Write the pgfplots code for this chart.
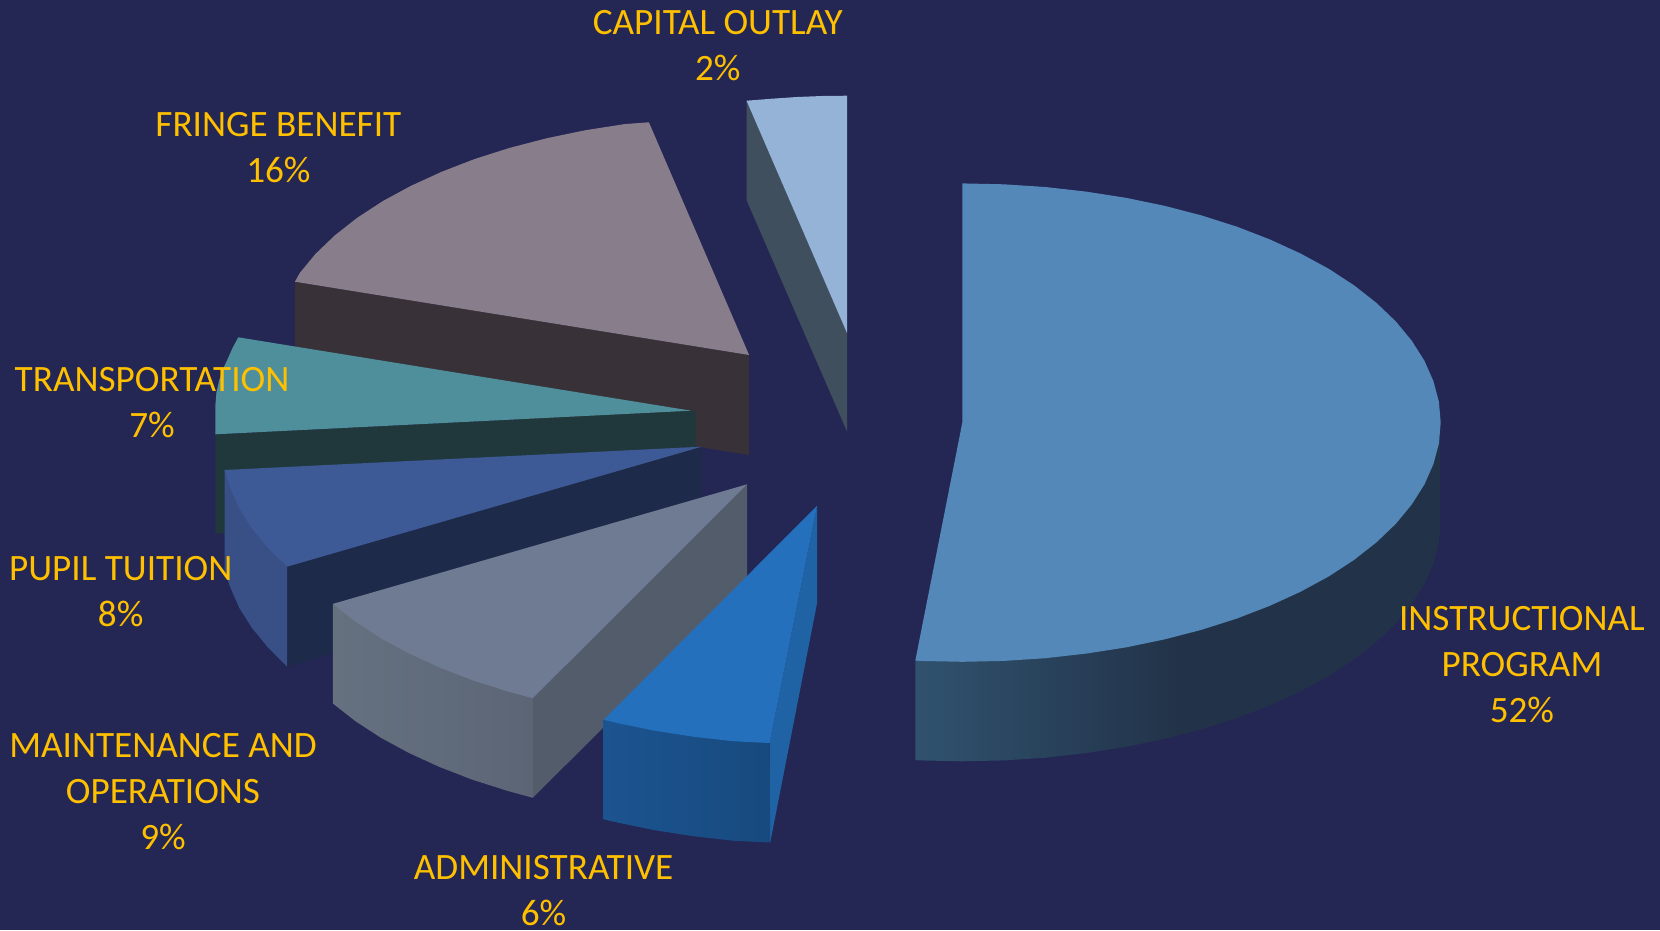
\documentclass[border=0pt]{standalone}
\usepackage{pgfplots}
\pgfplotsset{compat=1.18}
\usepackage{fontspec}
\setmainfont{Carlito}
\definecolor{bg}{HTML}{242654}
\definecolor{lab}{HTML}{FFC000}
\definecolor{instrTop}{HTML}{5388B8}
\definecolor{instrA}{HTML}{30526E}
\definecolor{instrB}{HTML}{223349}
\definecolor{capTop}{HTML}{95B3D7}
\definecolor{capSide}{HTML}{3F4F5D}
\definecolor{friTop}{HTML}{887D8B}
\definecolor{friSide}{HTML}{383238}
\definecolor{traTop}{HTML}{4F8F9B}
\definecolor{traSide}{HTML}{20383C}
\definecolor{pupTop}{HTML}{3E5A96}
\definecolor{pupOut}{HTML}{395087}
\definecolor{pupCut}{HTML}{1E2A4A}
\definecolor{maiTop}{HTML}{6E7B93}
\definecolor{maiA}{HTML}{667180}
\definecolor{maiB}{HTML}{5B6576}
\definecolor{maiCut}{HTML}{535C6B}
\definecolor{admTop}{HTML}{2470BC}
\definecolor{admA}{HTML}{1C5490}
\definecolor{admB}{HTML}{174A7E}
\definecolor{admCut}{HTML}{1F63A5}
\newcommand{\lbl}[3]{\node[text=lab,align=center,font=\fontsize{37.2}{46}\selectfont,inner sep=0pt] at (axis cs:#1,#2) {#3};}
\begin{document}
\begin{tikzpicture}
\begin{axis}[
  scale only axis, width=1660pt, height=930pt,
  xmin=0, xmax=1660, ymin=0, ymax=930, y dir=reverse,
  axis lines=none, clip=true]
% background
\addplot[fill=bg,draw=none] coordinates {(0,0)(1660,0)(1660,930)(0,930)} --cycle;

% capital outlay
\addplot[fill=capSide,draw=none] coordinates {(746.5,100.7)(847.1,333.3)(847.1,431.7)(746.5,200)} --cycle;
\addplot[fill=capTop,draw=none] coordinates {(746.5,100.7)(772,98.7)(797,97)(822,96)(847.1,95.7)(847.1,333.3)} --cycle;

% fringe benefit
\addplot[fill=friSide,draw=none] coordinates {(294.9,281.7)(749.1,355)(749.1,455)(294.9,381.7)} --cycle;
\addplot[fill=friTop,draw=none] coordinates {(749.1,355)(648.9,122.3)(625.3,124)(585.5,130.2)(546.9,138.2)(509.9,147.8)(474.7,159)(441.6,171.8)(410.8,185.9)(382.6,201.2)(357.2,217.8)(334.8,235.4)(315.5,253.9)(299.6,273.2)(294.9,281.7)} --cycle;

% transportation
\addplot[fill=traSide,draw=none] coordinates {(215.4,434.3)(691,410.7)(695.5,411)(695.5,520)(215.4,533.3)} --cycle;
\addplot[fill=traTop,draw=none] coordinates {(691,410.7)(238.3,337.3)(233,347)(227.2,360)(222.5,370)(219.3,380)(216.5,392)(215.4,405)(215.4,434.3)} --cycle;

% pupil tuition
\addplot[fill=pupCut,draw=none] coordinates {(287,566.7)(701.5,446.7)(701.5,546)(287,666.7)} --cycle;
\addplot[fill=pupOut,draw=none] coordinates {(224.5,470)(224.5,570)(230.4,587.7)(239.4,608.1)(252,628)(267.9,647.3)(287,666.7)(287,566.7)(300,500)} --cycle;
\addplot[fill=pupTop,draw=none] coordinates {(224.5,470)(701.5,446.7)(287,566.7)(267.9,547.8)(252,528.5)(239.4,508.6)(230.4,488.2)} --cycle;

% maintenance and operations
\addplot[fill=maiCut,draw=none] coordinates {(532.9,698.3)(747.1,484.3)(747.1,583.8)(532.9,797.8)} --cycle;
\addplot[left color=maiA,right color=maiB,draw=none] coordinates {(332.9,603.9)(332.8,703.4)(355.2,721)(380.6,737.6)(408.8,752.9)(439.6,767)(472.7,779.8)(507.9,791)(532.9,797.8)(532.9,698.3)(450,620)} --cycle;
\addplot[fill=maiTop,draw=none] coordinates {(747.1,484.3)(332.8,603.9)(355.2,621.5)(380.6,638.1)(408.8,653.4)(439.6,667.5)(472.7,680.3)(507.9,691.5)(532.9,698.3)} --cycle;

% administrative
\addplot[fill=admCut,draw=none] coordinates {(769.6,743)(817.1,505.7)(817.1,603)(770.2,842.5)} --cycle;
\addplot[left color=admA,right color=admB,draw=none] coordinates {(603.6,719.8)(603.6,819.3)(614.9,822)(653.5,830)(693.3,836.2)(734,840.8)(770.2,842.5)(769.6,743)(700,700)} --cycle;
\addplot[fill=admTop,draw=none] coordinates {(817.1,505.7)(603.6,719.8)(614.9,722.5)(653.5,730.5)(693.3,736.7)(734,741.3)(769.6,743)} --cycle;

% instructional program
\addplot[left color=instrA,right color=instrB,middle color=instrB,draw=none] coordinates {(1440.7,422.6)(1440.7,522.1)(1438.9,543)(1433.4,563.6)(1424.4,584)(1411.8,603.9)(1395.9,623.2)(1376.6,641.7)(1354.2,659.3)(1328.8,675.9)(1300.6,691.2)(1269.8,705.3)(1236.7,718.1)(1201.5,729.3)(1164.5,738.9)(1125.9,746.9)(1086.1,753.1)(1045.4,757.7)(1004,760.4)(962.3,761.3)(920.6,760.4)(915.3,760.1)(915.3,660.6)(1000,500)} --cycle;
\addplot[fill=instrTop,draw=none] coordinates {(962.3,422.6)(962.3,183.4)(1004,184.3)(1045.4,187)(1086.1,191.6)(1125.9,197.8)(1164.5,205.8)(1201.5,215.4)(1236.7,226.6)(1269.8,239.4)(1300.6,253.5)(1328.8,268.8)(1354.2,285.4)(1376.6,303)(1395.9,321.5)(1411.8,340.8)(1424.4,360.7)(1433.4,381.1)(1438.9,401.7)(1440.7,422.6)(1438.9,443.5)(1433.4,464.1)(1424.4,484.5)(1411.8,504.4)(1395.9,523.7)(1376.6,542.2)(1354.2,559.8)(1328.8,576.4)(1300.6,591.7)(1269.8,605.8)(1236.7,618.6)(1201.5,629.8)(1164.5,639.4)(1125.9,647.4)(1086.1,653.6)(1045.4,658.2)(1004,660.9)(962.3,661.8)(920.6,660.9)(915.3,660.6)} --cycle;

% slice labels
\lbl{717.8}{46}{CAPITAL OUTLAY\\2\%}
\lbl{278.4}{147.2}{FRINGE BENEFIT\\16\%}
\lbl{152}{402.3}{TRANSPORTATION\\7\%}
\lbl{120.7}{591.8}{PUPIL TUITION\\8\%}
\lbl{163}{791.9}{MAINTENANCE AND\\OPERATIONS\\9\%}
\lbl{543.6}{890.9}{ADMINISTRATIVE\\6\%}
\lbl{1521.9}{664.9}{INSTRUCTIONAL\\PROGRAM\\52\%}
\end{axis}
\end{tikzpicture}
\end{document}
